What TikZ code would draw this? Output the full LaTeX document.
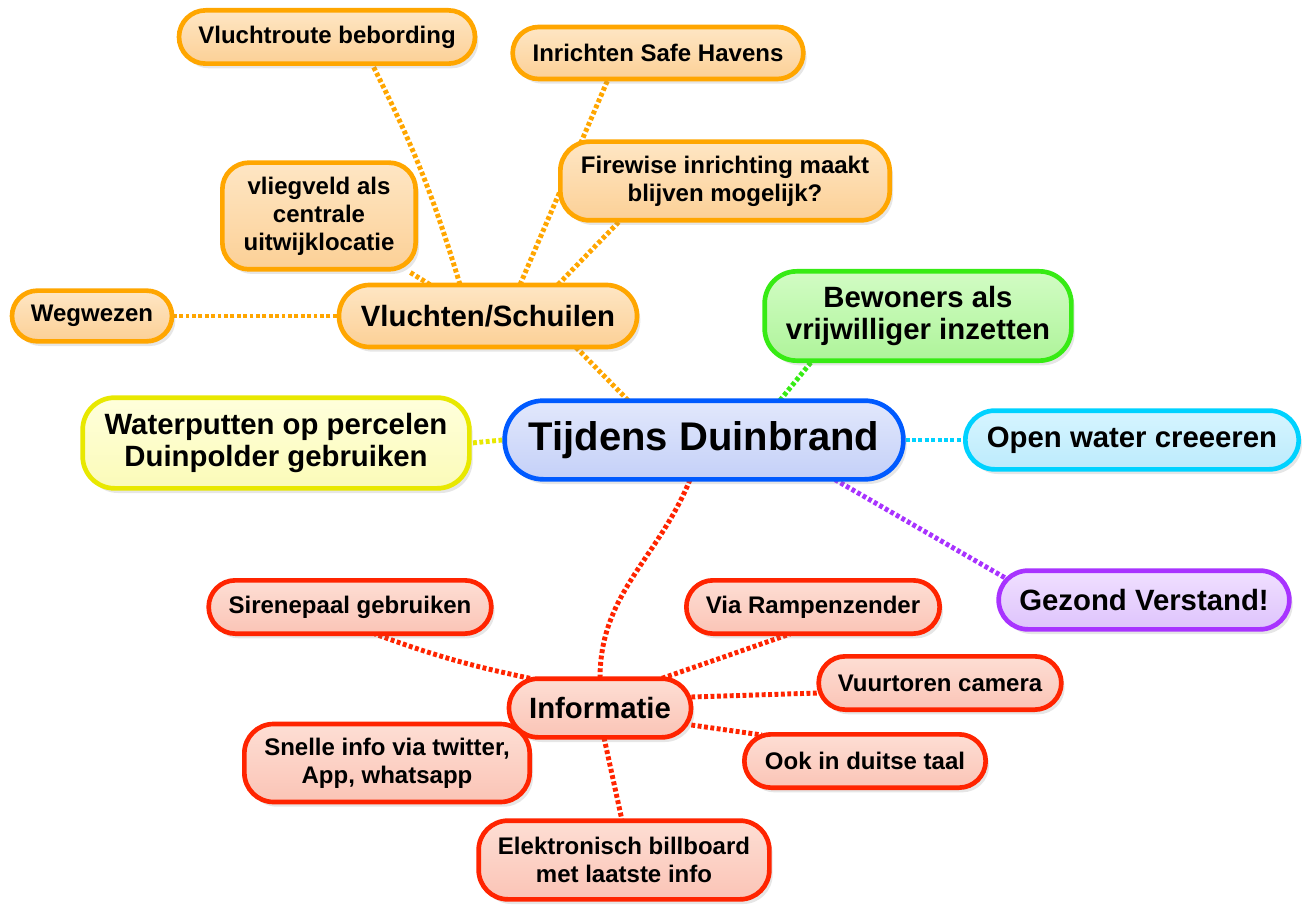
\documentclass[tikz,border=0pt]{standalone}
\usepackage{fontspec}
\setmainfont{Liberation Sans}
\usetikzlibrary{shadows,backgrounds,calc}
\definecolor{orB}{RGB}{255,166,0}\definecolor{orT}{RGB}{254,230,196}\definecolor{orM}{RGB}{252,208,150}
\definecolor{rdB}{RGB}{255,36,0}\definecolor{rdT}{RGB}{253,222,212}\definecolor{rdM}{RGB}{251,196,182}
\definecolor{blB}{RGB}{0,90,255}\definecolor{blT}{RGB}{226,232,252}\definecolor{blM}{RGB}{196,208,248}
\definecolor{grB}{RGB}{55,235,20}\definecolor{grT}{RGB}{210,252,196}\definecolor{grM}{RGB}{174,244,154}
\definecolor{cyB}{RGB}{0,210,255}\definecolor{cyT}{RGB}{214,245,255}\definecolor{cyM}{RGB}{188,235,252}
\definecolor{yeB}{RGB}{232,232,0}\definecolor{yeT}{RGB}{255,255,220}\definecolor{yeM}{RGB}{251,251,184}
\definecolor{puB}{RGB}{168,51,255}\definecolor{puT}{RGB}{240,224,255}\definecolor{puM}{RGB}{222,195,252}
\tikzset{
  box/.style={draw, line width=3.5pt, align=center, inner sep=0pt, rounded corners=21pt,
    drop shadow={shadow xshift=2.5pt, shadow yshift=-3.5pt, opacity=0.2}},
  orbox/.style={box, draw=orB, top color=orT, bottom color=orM},
  rdbox/.style={box, draw=rdB, top color=rdT, bottom color=rdM},
  smalltxt/.style={font=\fontsize{18}{21}\selectfont\bfseries},
  bigtxt/.style={font=\fontsize{22}{23.5}\selectfont\bfseries},
  con/.style={line width=3.7pt, dash pattern=on 2.9pt off 1.9pt},
}
\begin{document}
\begin{tikzpicture}[x=0.75pt,y=-0.75pt]
\useasboundingbox (0,0) rectangle (1308,905);
% centre
\node[box, draw=blB, top color=blT, bottom color=blM, rounded corners=29pt,
  minimum width=299pt, minimum height=59pt, font=\fontsize{30}{32}\selectfont\bfseries]
  (C) at (704,440) {Tijdens Duinbrand};
% main branches
\node[orbox, bigtxt, minimum width=223.5pt, minimum height=46.5pt, rounded corners=23pt] (V) at (488,316) {Vluchten/Schuilen};
\node[box, draw=grB, top color=grT, bottom color=grM, bigtxt, minimum width=230pt, minimum height=67pt, rounded corners=24pt] (B) at (918,316) {Bewoners als\\vrijwilliger inzetten};
\node[box, draw=cyB, top color=cyT, bottom color=cyM, bigtxt, minimum width=250pt, minimum height=44pt, rounded corners=22pt] (O) at (1132,440) {Open water creeeren};
\node[box, draw=yeB, top color=yeT, bottom color=yeM, bigtxt, minimum width=290pt, minimum height=68pt, rounded corners=24pt] (Wp) at (276,443) {Waterputten op percelen\\Duinpolder gebruiken};
\node[box, draw=puB, top color=puT, bottom color=puM, bigtxt, minimum width=218pt, minimum height=44pt, rounded corners=22pt] (G) at (1144,600) {Gezond Verstand!};
% Vluchten sub
\node[orbox, smalltxt, minimum width=120pt, minimum height=38pt, rounded corners=19pt] (Wg) at (92,316) {Wegwezen};
\node[orbox, smalltxt, minimum width=145pt, minimum height=80pt, rounded corners=20pt] (vl) at (319,216) {vliegveld als\\centrale\\uitwijklocatie};
\node[orbox, smalltxt, minimum width=222pt, minimum height=40pt, rounded corners=20pt] (vr) at (327,37) {Vluchtroute bebording};
\node[orbox, smalltxt, minimum width=218pt, minimum height=39pt, rounded corners=19.5pt] (sh) at (658,53) {Inrichten Safe Havens};
\node[orbox, smalltxt, minimum width=247pt, minimum height=59pt, rounded corners=22pt] (fw) at (725,181) {Firewise inrichting maakt\\blijven mogelijk?};
% Informatie sub
\node[rdbox, smalltxt, minimum width=212pt, minimum height=40pt, rounded corners=20pt] (sp) at (350,607) {Sirenepaal gebruiken};
\node[rdbox, smalltxt, minimum width=190pt, minimum height=40pt, rounded corners=20pt] (rz) at (813,607) {Via Rampenzender};
\node[rdbox, smalltxt, minimum width=182pt, minimum height=40pt, rounded corners=20pt] (vt) at (940,683) {Vuurtoren camera};
\node[rdbox, smalltxt, minimum width=181pt, minimum height=40pt, rounded corners=20pt] (dt) at (865,761) {Ook in duitse taal};
\node[rdbox, smalltxt, minimum width=214pt, minimum height=58.5pt, rounded corners=22pt] (sn) at (387,763) {Snelle info via twitter,\\App, whatsapp};
\node[rdbox, smalltxt, minimum width=218pt, minimum height=59pt, rounded corners=22pt] (el) at (624,860) {Elektronisch billboard\\met laatste info};
\node[rdbox, bigtxt, minimum width=136.5pt, minimum height=44pt, rounded corners=22pt] (I) at (600,708) {Informatie};
% connectors
\begin{pgfonlayer}{background}
\draw[con, draw=orB] ($(C.north)+(-76,2)$) -- ($(V.south)+(88,-2)$);
\draw[con, draw=grB] ($(C.north)+(76,2)$) -- ($(B.south)+(-106,-2)$);
\draw[con, draw=cyB] (C.east) -- (O.west);
\draw[con, draw=yeB] (C.west) -- (Wp.east);
\draw[con, draw=puB] ($(C.south)+(131,-2)$) -- ($(G.west)+(9,-22)$);
\draw[con, draw=rdB] ($(C.south)+(-14,-2)$) to[out=-112,in=90] ($(I.north)+(0,2)$);
\draw[con, draw=orB] (V.west) -- (Wg.east);
\draw[con, draw=orB] ($(V.north)+(-58,2)$) -- (vl);
\draw[con, draw=orB] ($(V.north)+(-28,2)$) to[bend right=5] ($(vr.south)+(45,-2)$);
\draw[con, draw=orB] ($(V.north)+(32,2)$) -- ($(sh.south)+(-50,-2)$);
\draw[con, draw=orB] ($(V.north)+(70,2)$) -- ($(fw.south)+(-105,-2)$);
\draw[con, draw=rdB] ($(I.north)+(-70,2)$) to[bend left=4] ($(sp.south)+(25,-2)$);
\draw[con, draw=rdB] ($(I.north)+(62,2)$) -- ($(rz.south)+(-23,-2)$);
\draw[con, draw=rdB] ($(I.east)+(-2,-11)$) -- ($(vt.west)+(2,10)$);
\draw[con, draw=rdB] ($(I.east)+(-2,17)$) -- ($(dt.west)+(20,-26)$);
\draw[con, draw=rdB] (I) -- (sn);
\draw[con, draw=rdB] ($(I.south)+(4,-2)$) -- ($(el.north)+(-2,2)$);
\end{pgfonlayer}
\end{tikzpicture}
\end{document}
